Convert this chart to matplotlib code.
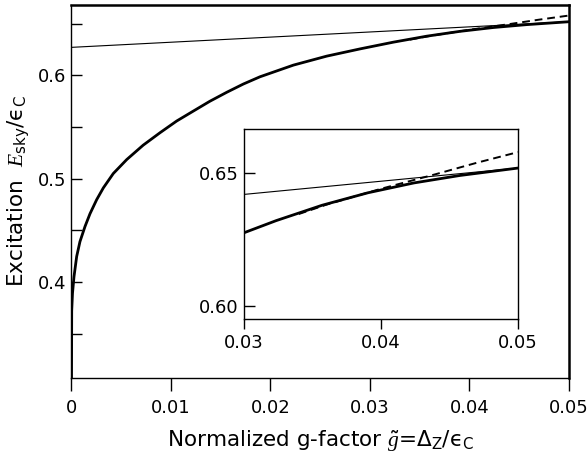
import matplotlib
matplotlib.use("Agg")
import matplotlib.pyplot as plt

plt.rcParams['font.family'] = ['DejaVu Sans']
plt.rcParams['mathtext.fontset'] = 'custom'
plt.rcParams['mathtext.rm'] = 'DejaVu Sans'
plt.rcParams['mathtext.it'] = 'Liberation Serif:italic'
plt.rcParams['mathtext.sf'] = 'DejaVu Sans'

# skyrmion excitation energy (thick curve)
g_sky = [0.0, 0.00002, 0.0001, 0.00025, 0.00052, 0.00085, 0.00136, 0.00186,
         0.00253, 0.0032, 0.0042, 0.00555, 0.0072, 0.0089, 0.01057, 0.01224,
         0.0139, 0.0156, 0.01727, 0.01894, 0.0223, 0.02565, 0.029, 0.03234,
         0.0357, 0.03905, 0.0424, 0.04575, 0.050]
e_sky = [0.30, 0.372, 0.389, 0.405, 0.4246, 0.439, 0.4537, 0.466,
         0.4796, 0.491, 0.5049, 0.5184, 0.5323, 0.5444, 0.5557, 0.5653,
         0.5748, 0.5835, 0.5915, 0.5985, 0.6098, 0.6185, 0.6255, 0.6320,
         0.6378, 0.6425, 0.6462, 0.6490, 0.6518]

# quasiparticle excitation (thin straight line)
g_qp = [0.0, 0.05]
e_qp = [0.627, 0.6518]

# expansion (dashed)
g_exp = [0.034, 0.036, 0.040, 0.044, 0.047, 0.050]
e_exp = [0.6345, 0.638, 0.644, 0.6495, 0.6538, 0.6578]


def draw_lines(ax):
    ax.plot(g_qp, e_qp, color='black', lw=0.8)
    ax.plot(g_sky, e_sky, color='black', lw=2.0)
    ax.plot(g_exp, e_exp, color='black', lw=1.4, ls=(0, (4, 2.5)))


fig = plt.figure(figsize=(5.87, 4.66), dpi=100)
ax = fig.add_axes([0.1218, 0.1888, 0.8475, 0.8005])
draw_lines(ax)
ax.set_xlim(0, 0.05)
ax.set_ylim(0.307, 0.668)
ax.set_xticks([0, 0.01, 0.02, 0.03, 0.04, 0.05])
ax.set_xticklabels(['0', '0.01', '0.02', '0.03', '0.04', '0.05'])
ax.set_yticks([0.4, 0.5, 0.6])
ax.set_yticklabels(['0.4', '0.5', '0.6'])
ax.set_yticks([0.35, 0.45, 0.55, 0.65], minor=True)
ax.tick_params(axis='x', direction='out', length=9, width=1.0, labelsize=13, pad=6)
ax.tick_params(axis='y', which='both', direction='in', length=8, width=1.0, labelsize=13, pad=4)
for s in ['top', 'right']:
    ax.spines[s].set_linewidth(1.8)
for s in ['left', 'bottom']:
    ax.spines[s].set_linewidth(1.0)
ax.set_xlabel('Normalized g-factor $\\tilde{g}$=$\\mathit{\\Delta}_\\mathrm{Z}$/\u03f5$_\\mathrm{C}$',
              fontsize=15.5, labelpad=8)
ax.set_ylabel('Excitation  $E_\\mathrm{sky}$/\u03f5$_\\mathrm{C}$', fontsize=15.5, labelpad=4)

# inset
ins = fig.add_axes([0.4157, 0.3155, 0.4668, 0.4077])
draw_lines(ins)
ins.set_xlim(0.03, 0.05)
ins.set_ylim(0.595, 0.6665)
ins.set_xticks([0.03, 0.04, 0.05])
ins.set_xticklabels(['0.03', '0.04', '0.05'])
ins.set_yticks([0.60, 0.65])
ins.set_yticklabels(['0.60', '0.65'])
ins.tick_params(axis='x', direction='out', length=7, width=1.0, labelsize=13, pad=4)
ins.tick_params(axis='y', direction='in', length=8, width=1.0, labelsize=13, pad=4)
for s in ins.spines.values():
    s.set_linewidth(1.0)

fig.savefig('out.png', dpi=100)
